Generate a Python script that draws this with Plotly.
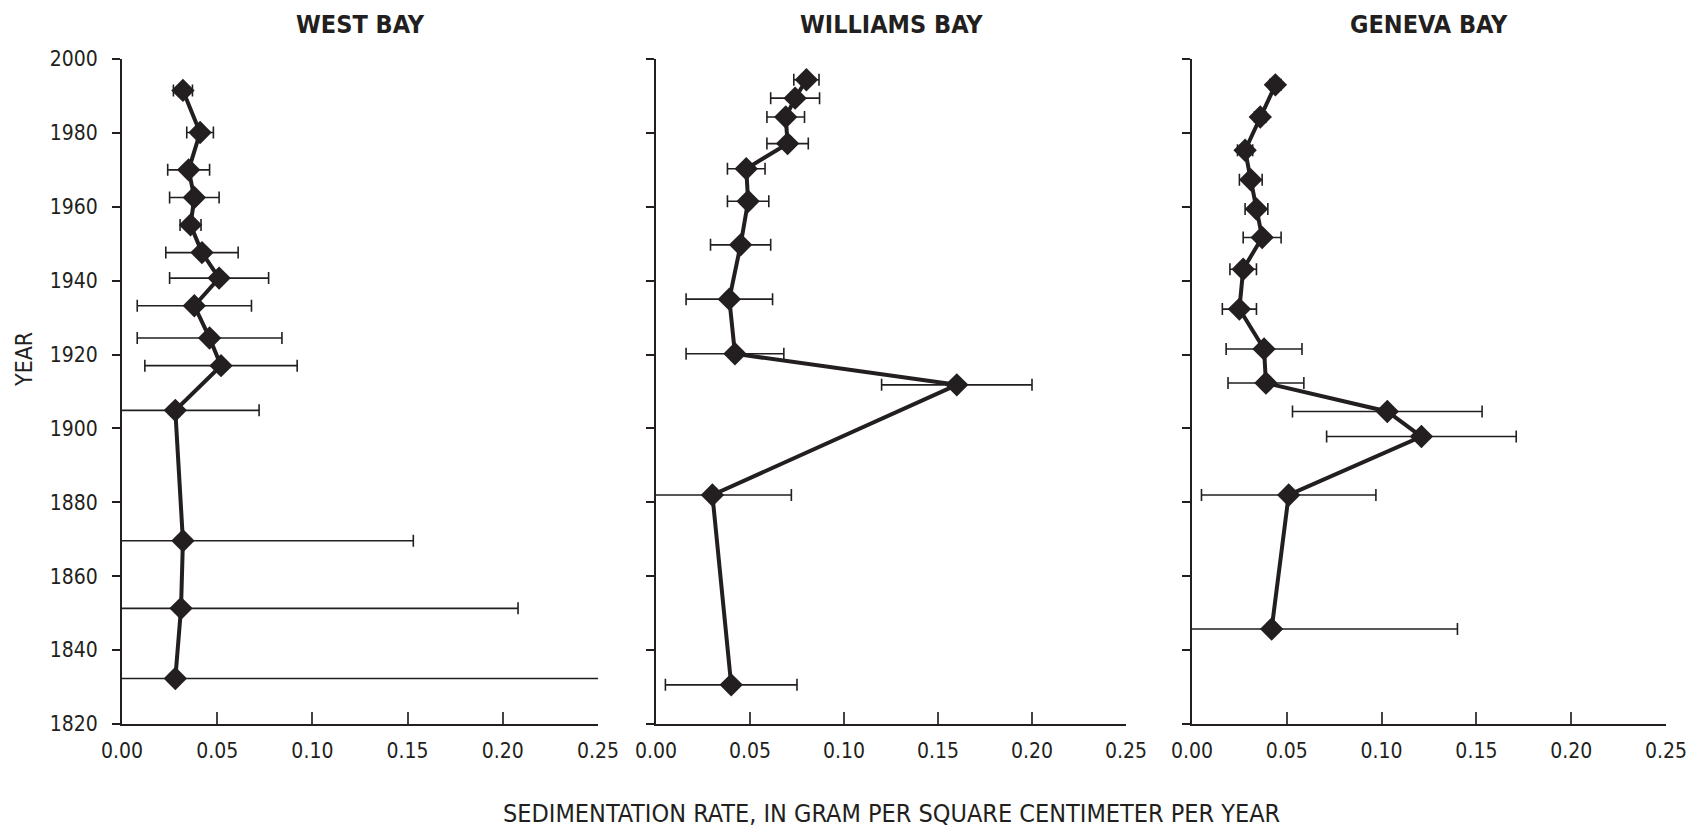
import plotly.graph_objects as go

# ---------------- data ----------------
west_year = [1991.5, 1980.1, 1970.0, 1962.5, 1955.1, 1947.6, 1940.7, 1933.2, 1924.5, 1917.0, 1904.9, 1869.6, 1851.3, 1832.3]
west_rate = [0.032, 0.041, 0.035, 0.038, 0.036, 0.042, 0.051, 0.038, 0.046, 0.052, 0.028, 0.032, 0.031, 0.028]
west_err = [0.005, 0.007, 0.011, 0.013, 0.0055, 0.019, 0.026, 0.030, 0.038, 0.040, 0.044, 0.121, 0.177, 0.25]

williams_year = [1994.4, 1989.4, 1984.3, 1977.1, 1970.3, 1961.5, 1949.7, 1935.0, 1920.2, 1911.8, 1882.0, 1830.6]
williams_rate = [0.080, 0.074, 0.069, 0.070, 0.048, 0.049, 0.045, 0.039, 0.042, 0.160, 0.030, 0.040]
williams_err = [0.0067, 0.013, 0.010, 0.011, 0.010, 0.011, 0.016, 0.023, 0.026, 0.040, 0.042, 0.035]

geneva_year = [1993.0, 1984.3, 1975.3, 1967.3, 1959.4, 1951.7, 1943.1, 1932.3, 1921.5, 1912.3, 1904.6, 1897.8, 1882.0, 1845.7]
geneva_rate = [0.044, 0.036, 0.028, 0.031, 0.034, 0.037, 0.027, 0.025, 0.038, 0.039, 0.103, 0.121, 0.051, 0.042]
geneva_err = [0.003, 0.003, 0.004, 0.006, 0.006, 0.010, 0.007, 0.009, 0.020, 0.020, 0.050, 0.050, 0.046, 0.098]

panel_titles = ["WEST BAY", "WILLIAMS BAY", "GENEVA BAY"]
x_title = "SEDIMENTATION RATE, IN GRAM PER SQUARE CENTIMETER PER YEAR"
y_title = "YEAR"

# ---------------- style ----------------
FONT = "Liberation Sans Narrow, Arial Narrow, DejaVu Sans Condensed, sans-serif"
INK = "#231f20"
W, H = 1690, 830


def px_x(p):
    return p / W


def px_y(p):
    return 1 - p / H


panel_px = [(122, 598), (656, 1126), (1192, 1666)]
y_top_px, y_bot_px = 59, 724
ydom = [px_y(y_bot_px), px_y(y_top_px)]

fig = go.Figure()
series = [(west_rate, west_year, west_err),
          (williams_rate, williams_year, williams_err),
          (geneva_rate, geneva_year, geneva_err)]

for i, (rx, yy, ee) in enumerate(series):
    n = "" if i == 0 else str(i + 1)
    fig.add_trace(go.Scatter(
        x=rx, y=yy, mode="lines+markers",
        xaxis="x" + n, yaxis="y" + n,
        line=dict(color=INK, width=4),
        marker=dict(symbol="diamond", size=18, color=INK),
        error_x=dict(type="data", array=ee, symmetric=True, color=INK, thickness=1.6, width=6),
        showlegend=False, cliponaxis=False, hoverinfo="skip",
    ))

layout = dict(
    width=W, height=H, margin=dict(l=0, r=0, t=0, b=0, autoexpand=False),
    paper_bgcolor="white", plot_bgcolor="white",
    font=dict(family=FONT, color=INK, size=21),
    showlegend=False,
)

for i, (l, r) in enumerate(panel_px):
    n = "" if i == 0 else str(i + 1)
    dom = [px_x(l), px_x(r)]
    layout["xaxis" + n] = dict(
        domain=dom, range=[0, 0.25], dtick=0.05, tick0=0, tickformat=".2f",
        showgrid=False, zeroline=False, showline=True, linecolor=INK, linewidth=2,
        ticks="inside", ticklen=12, tickwidth=1.5, tickcolor="#444",
        anchor="y" + n, ticklabelstandoff=7, automargin=False, ticklabeloverflow="allow",
        tickfont=dict(family=FONT, size=21, color=INK),
    )
    layout["yaxis" + n] = dict(
        domain=ydom, range=[1820, 2000], dtick=20, tick0=1820,
        showgrid=False, zeroline=False, showline=True, linecolor=INK, linewidth=2,
        ticks="outside", ticklen=8, tickwidth=1.5, tickcolor=INK,
        anchor="x" + n, showticklabels=(i == 0), ticklabelstandoff=10, automargin=False,
        ticklabeloverflow="allow",
        tickfont=dict(family=FONT, size=21, color=INK),
    )
    # top frame (grey line with inside ticks) and right frame (grey line)
    k = str(i + 4)
    layout["xaxis" + k] = dict(
        overlaying="x" + n, anchor="y" + n, side="top", range=[0, 0.25], dtick=0.05, tick0=0,
        showgrid=False, zeroline=False, showline=True, linecolor="#8a8a8a", linewidth=1.5,
        ticks="inside", ticklen=12, tickwidth=1.5, tickcolor="#666", showticklabels=False,
        automargin=False,
    )
    layout["yaxis" + k] = dict(
        overlaying="y" + n, anchor="x" + n, side="right", range=[1820, 2000],
        showgrid=False, zeroline=False, showline=True, linecolor="#8a8a8a", linewidth=1.5,
        ticks="", showticklabels=False, automargin=False,
    )

fig.update_layout(**layout)

ann = []
for i, (l, r) in enumerate(panel_px):
    ann.append(dict(text=panel_titles[i], x=px_x((l + r) / 2), y=px_y(24), xref="paper", yref="paper",
                    xanchor="center", yanchor="middle", showarrow=False,
                    font=dict(family=FONT, size=25, color=INK, weight="bold")))
ann.append(dict(text=x_title, x=px_x(891), y=px_y(813), xref="paper", yref="paper",
                xanchor="center", yanchor="middle", showarrow=False,
                font=dict(family=FONT, size=25, color=INK)))
ann.append(dict(text=y_title, x=px_x(24), y=px_y(360), xref="paper", yref="paper",
                xanchor="center", yanchor="middle", showarrow=False, textangle=-90,
                font=dict(family=FONT, size=23, color=INK)))
fig.update_layout(annotations=ann)

fig.write_html(
    "out.html",
    config={"displayModeBar": False},
    post_script="document.body.style.margin='0';document.documentElement.style.overflow='hidden';",
)
